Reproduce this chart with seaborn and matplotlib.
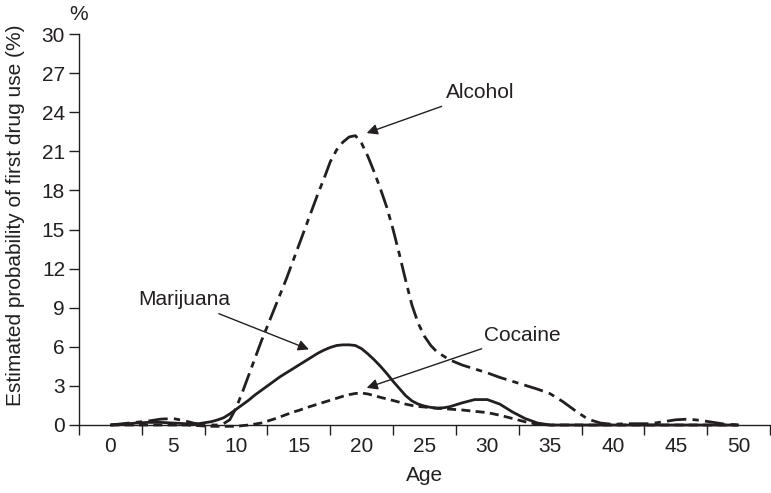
import matplotlib
matplotlib.use("Agg")
import matplotlib.pyplot as plt
import numpy as np
import pandas as pd
import seaborn as sns

# Age (years): yearly, with half-year steps through the adolescent peak
ages = [0, 1, 2, 3, 4, 5, 6, 7, 8,
        8.5, 9, 9.5, 10, 10.5, 11, 11.5, 12, 12.5, 13,
        13.5, 14, 14.5, 15, 15.5, 16, 16.5, 17, 17.5, 18,
        18.5, 19, 19.5, 20, 20.5, 21, 21.5, 22, 22.5, 23,
        23.5, 24, 24.5, 25, 25.5, 26, 26.5, 27,
        28, 29, 30, 31, 32, 33, 34, 35, 36, 37, 38, 39,
        40, 41, 42, 43, 44, 45, 46, 47, 48, 49, 50]

# Estimated probability of first use (%) at each age
alcohol = [0.0, 0.1, 0.2, 0.3, 0.45, 0.5, 0.3, 0.05, 0.0,
           0.0, 0.1, 0.4, 1.3, 2.5, 3.8, 5.1, 6.4, 7.6, 8.8,
           10.0, 11.2, 12.5, 13.8, 15.1, 16.4, 17.7, 18.9, 20.2, 21.1,
           21.7, 22.1, 22.2, 21.6, 20.6, 19.4, 18.1, 16.7, 15.0, 13.1,
           11.1, 9.2, 7.8, 6.8, 6.1, 5.6, 5.3, 5.0,
           4.6, 4.3, 4.0, 3.65, 3.35, 3.05, 2.75, 2.4, 1.8, 1.1, 0.45, 0.15,
           0.05, 0.1, 0.1, 0.1, 0.25, 0.4, 0.45, 0.35, 0.2, 0.05, 0.0]

marijuana = [0.0, 0.05, 0.15, 0.2, 0.2, 0.15, 0.1, 0.1, 0.25,
             0.38, 0.55, 0.85, 1.2, 1.55, 1.9, 2.3, 2.65, 3.0, 3.35,
             3.7, 4.0, 4.3, 4.6, 4.9, 5.2, 5.5, 5.75, 5.95, 6.1,
             6.15, 6.15, 6.1, 5.85, 5.45, 5.0, 4.5, 3.95, 3.35, 2.8,
             2.25, 1.85, 1.6, 1.45, 1.35, 1.3, 1.32, 1.4,
             1.7, 1.95, 1.95, 1.6, 1.0, 0.5, 0.15, 0.0, 0.0, 0.0, 0.0, 0.0,
             0.0, 0.0, 0.0, 0.0, 0.0, 0.0, 0.0, 0.0, 0.0, 0.0, 0.0]

cocaine = [0.0, 0.0, 0.0, 0.0, 0.0, 0.0, 0.0, -0.05, -0.1,
           -0.1, -0.1, -0.1, -0.1, -0.05, 0.0, 0.07, 0.15, 0.3, 0.45,
           0.62, 0.8, 0.98, 1.12, 1.3, 1.45, 1.6, 1.75, 1.9, 2.05,
           2.2, 2.33, 2.42, 2.45, 2.38, 2.25, 2.12, 2.0, 1.88, 1.75,
           1.6, 1.5, 1.42, 1.38, 1.32, 1.28, 1.25, 1.22,
           1.15, 1.05, 0.95, 0.75, 0.5, 0.25, 0.05, 0.0, 0.0, 0.0, 0.0, 0.0,
           0.0, 0.0, 0.0, 0.0, 0.0, 0.0, 0.0, 0.0, 0.0, 0.0, 0.0]

x_tick_labels = ["0", "5", "10", "15", "20", "25", "30", "35", "40", "45", "50"]
y_ticks = [0, 3, 6, 9, 12, 15, 18, 21, 24, 27, 30]

sns.set_theme(style="white")
plt.rcParams["font.family"] = ["Liberation Sans", "DejaVu Sans"]
plt.rcParams["lines.scale_dashes"] = False

ink = "#231f20"
fs = 15

fig = plt.figure(figsize=(7.71, 4.93), dpi=100)
ax = fig.add_axes([79 / 771, 1 - 425 / 493, (770 - 79) / 771, (425 - 34) / 493])

df = pd.DataFrame({"Age": ages, "Alcohol": alcohol,
                   "Marijuana": marijuana, "Cocaine": cocaine})

styles = {
    "Alcohol": [14.0, 4.5, 4.5, 4.5],
    "Marijuana": None,
    "Cocaine": [6.5, 3.8],
}
for name, dash in styles.items():
    sns.lineplot(data=df, x="Age", y=name, ax=ax, color=ink, lw=2.0)
    line = ax.lines[-1]
    line.set_clip_on(False)
    line.set_solid_capstyle("butt")
    line.set_solid_joinstyle("round")
    if dash is not None:
        line.set_dashes(dash)
        line.set_dash_capstyle("butt")

ax.set_xlim(-2.5, 52.5)
ax.set_ylim(0, 30)

# Labelled positions carry no tick mark; marks sit halfway between labels
ax.set_xticks(np.arange(0, 51, 5))
ax.set_xticklabels(x_tick_labels)
ax.set_xticks(np.arange(-2.5, 53, 5), minor=True)
ax.tick_params(axis="x", which="major", length=0, pad=9, labelsize=fs, colors=ink)
ax.tick_params(axis="x", which="minor", length=7, width=1.0, direction="out",
               color=ink, bottom=True)

ax.set_yticks(y_ticks)
ax.set_yticklabels([str(v) for v in y_ticks])
ax.tick_params(axis="y", which="major", length=7, width=1.0, direction="out",
               labelsize=fs, colors=ink, left=True, pad=3)

for side in ["top", "right"]:
    ax.spines[side].set_visible(False)
for side in ["left", "bottom"]:
    ax.spines[side].set_color(ink)
    ax.spines[side].set_linewidth(1.0)

ax.set_xlabel("Age", fontsize=fs, color=ink, labelpad=7)
ax.set_ylabel("Estimated probability of first drug use (%)", fontsize=fs, color=ink,
              va="center")
ax.yaxis.set_label_coords(-0.0926, 0.537)

fig.text(79 / 771, 1 - 15 / 493, "%", fontsize=fs, color=ink, ha="center", va="center")

arrow = dict(arrowstyle="-|>", color=ink, lw=1.0, mutation_scale=16, shrinkA=2, shrinkB=0)
ax.annotate("Alcohol", xy=(20.4, 22.4), xytext=(26.7, 25.5), fontsize=fs, color=ink,
            ha="left", va="center", arrowprops=arrow)
ax.annotate("Marijuana", xy=(15.8, 5.8), xytext=(2.2, 9.6), fontsize=fs, color=ink,
            ha="left", va="center", arrowprops=arrow)
ax.annotate("Cocaine", xy=(20.4, 2.85), xytext=(29.7, 6.9), fontsize=fs, color=ink,
            ha="left", va="center", arrowprops=arrow)

fig.savefig("out.png", dpi=100)
